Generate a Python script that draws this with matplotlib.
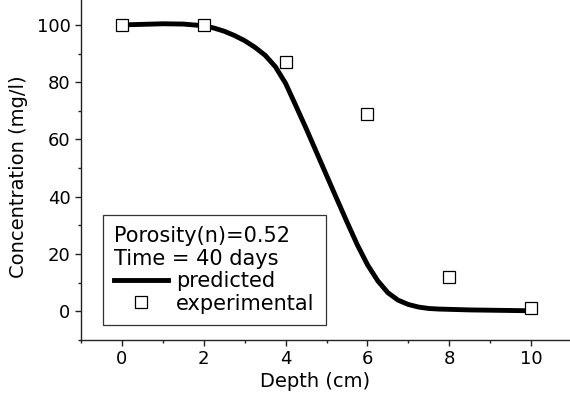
import numpy as np
import matplotlib
matplotlib.use("Agg")
import matplotlib.pyplot as plt
from matplotlib.lines import Line2D
from matplotlib.ticker import MultipleLocator

# measured points
depth_exp = [0, 2, 4, 6, 8, 10]
conc_exp = [100, 100, 87, 69, 12, 1]

# predicted curve
depth_pred = [0, 0.5, 1, 1.5, 2, 2.25, 2.5, 2.75, 3, 3.25, 3.5, 3.75, 4,
              4.25, 4.5, 4.75, 5, 5.25, 5.5, 5.75, 6, 6.25, 6.5, 6.75, 7,
              7.25, 7.5, 7.75, 8, 8.5, 9, 9.5, 10]
conc_pred = [100, 100.2, 100.4, 100.3, 99.7, 98.9, 97.8, 96.3, 94.5, 92.2,
             89.4, 85.4, 79.6, 71.8, 63.9, 55.7, 47.5, 39.3, 31.2, 23.3,
             16.3, 10.7, 6.5, 3.9, 2.4, 1.5, 1.0, 0.8, 0.7, 0.5, 0.4, 0.3,
             0.2]

plt.rcParams['font.family'] = ['DejaVu Sans']

fig = plt.figure(figsize=(5.7, 3.94), dpi=100)
ax = fig.add_axes([81/570, 54/394, 489/570, 340/394])

ax.plot(depth_pred, conc_pred, color='black', lw=3.5, zorder=2,
        solid_capstyle='butt', solid_joinstyle='round')
ax.plot(depth_exp, conc_exp, ls='none', marker='s', ms=9, mfc='white',
        mec='black', mew=0.9, zorder=3)

ax.set_xlim(-1, 10.95)
ax.set_ylim(-10, 108.7)
ax.xaxis.set_major_locator(MultipleLocator(2))
ax.xaxis.set_minor_locator(MultipleLocator(1))
ax.yaxis.set_major_locator(MultipleLocator(20))
ax.yaxis.set_minor_locator(MultipleLocator(10))

for s in ['top', 'right']:
    ax.spines[s].set_visible(False)
for s in ['left', 'bottom']:
    ax.spines[s].set_linewidth(1.0)
    ax.spines[s].set_color('#222222')

ax.tick_params(which='major', direction='out', length=4.5, width=1.0,
               labelsize=13, pad=3, color='#222222')
ax.tick_params(which='minor', direction='out', length=2.5, width=1.0,
               color='#222222')

ax.set_xlabel('Depth (cm)', fontsize=14)
ax.set_ylabel('Concentration (mg/l)', fontsize=14)
ax.xaxis.set_label_coords(0.479, -0.095)
ax.yaxis.set_label_coords(-0.108, 0.48)

handles = [Line2D([], [], color='black', lw=3.5),
           Line2D([], [], ls='none', marker='s', ms=9, mfc='white',
                  mec='black', mew=0.9)]
leg = ax.legend(handles, ['predicted', 'experimental'],
                title='Porosity(n)=0.52\nTime = 40 days',
                title_fontsize=15, fontsize=15, alignment='left',
                loc='lower left', bbox_to_anchor=(0.045, 0.044),
                borderaxespad=0, borderpad=0.55, labelspacing=0.1,
                handlelength=2.55, handletextpad=0.4, fancybox=False,
                framealpha=1, edgecolor='#333333')
leg.get_frame().set_linewidth(0.9)

fig.savefig('out.png', dpi=100)
